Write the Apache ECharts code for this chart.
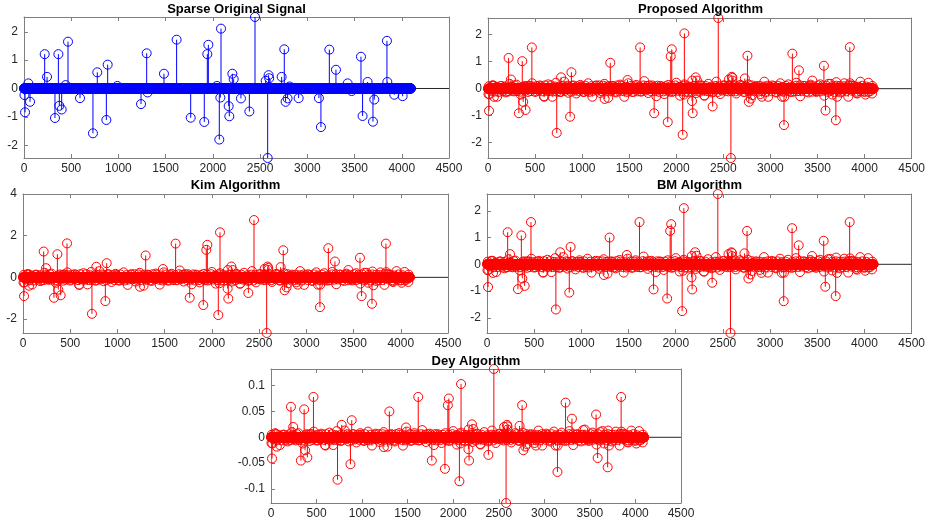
<!DOCTYPE html>
<html>
<head>
<meta charset="utf-8">
<script src="https://cdn.jsdelivr.net/npm/echarts@6.0.0/dist/echarts.min.js"></script>
<style>
html,body{margin:0;padding:0;background:#fff;}
#c{width:928px;height:524px;}
</style>
</head>
<body>
<div id="c"></div>
<script>
// ---------------- DATA ----------------
const N = 4096;
const xTicks = [0, 500, 1000, 1500, 2000, 2500, 3000, 3500, 4000, 4500];
const yTicksUnit = [-2, -1, 0, 1, 2];
const yTicksKim = [-2, 0, 2, 4];
const yTicksDey = [-0.1, -0.05, 0, 0.05, 0.1];

// sample positions of the non-zero entries of the sparse signal
const supportIdx = [5, 11, 46, 64, 219, 244, 328, 364, 374, 399, 441, 466, 593, 730, 776, 872, 886, 988,
  1239, 1299, 1309, 1482, 1616, 1765, 1909, 1941, 1952, 2043, 2068, 2079, 2086, 2167, 2174, 2206, 2220,
  2297, 2386, 2446, 2559, 2580, 2590, 2596, 2728, 2756, 2770, 2791, 2813, 2908, 3123, 3144, 3233, 3303,
  3427, 3469, 3568, 3585, 3638, 3695, 3709, 3843, 3847, 3921, 4009];

const originalVals = [-0.23, -0.84, 0.18, -0.47, 1.21, 0.41, -1.04, 1.21, -0.61, -0.74, 0.12, 1.65, -0.34, -1.58, 0.57, -1.11, 0.84, 0.09,
  -0.55, 1.24, -0.14, 0.52, 1.72, -1.03, -1.18, 1.21, 1.54, 0.09, -1.80, -0.32, 2.11, -0.62, -0.98, 0.52, 0.33,
  -0.35, -0.81, 2.52, 0.27, -2.45, 0.47, 0.36, 0.41, 1.38, -0.47, -0.35, 0.07, -0.34, -0.34, -1.36, 1.37, 0.66,
  0.18, -0.09, 1.12, -0.97, 0.23, -1.17, -0.39, 1.68, 0.23, -0.22, -0.27];

const proposedVals = [-0.20, -0.82, 0.12, -0.30, 1.14, 0.34, -0.91, 1.02, -0.49, -0.79, 0.10, 1.53, -0.28, -1.64, 0.42, -1.04, 0.61, 0.08,
  -0.38, 0.96, -0.10, 0.32, 1.53, -0.91, -1.24, 1.20, 1.46, 0.07, -1.71, -0.22, 2.05, -0.46, -0.91, 0.42, 0.30,
  -0.25, -0.66, 2.62, 0.34, -2.57, 0.44, 0.40, 0.38, 1.22, -0.49, -0.37, 0.05, -0.30, -0.30, -1.35, 1.30, 0.68,
  0.15, -0.06, 0.85, -0.81, 0.18, -1.17, -0.30, 1.54, 0.20, -0.18, -0.22];

const kimVals = [-0.25, -0.90, 0.15, -0.40, 1.24, 0.44, -0.98, 1.11, -0.59, -0.86, 0.12, 1.63, -0.35, -1.75, 0.51, -1.14, 0.68, 0.10,
  -0.45, 1.05, -0.12, 0.40, 1.62, -0.98, -1.33, 1.32, 1.56, 0.08, -1.81, -0.28, 2.16, -0.54, -1.02, 0.52, 0.35,
  -0.30, -0.75, 2.75, 0.41, -2.67, 0.52, 0.45, 0.49, 1.30, -0.62, -0.48, 0.06, -0.35, -0.35, -1.43, 1.40, 0.76,
  0.18, -0.08, 0.94, -0.90, 0.22, -1.27, -0.38, 1.62, 0.25, -0.22, -0.26];

const bmVals = [-0.22, -0.85, 0.13, -0.32, 1.20, 0.38, -0.93, 1.08, -0.53, -0.81, 0.10, 1.58, -0.30, -1.69, 0.45, -1.06, 0.65, 0.08,
  -0.40, 1.00, -0.10, 0.35, 1.58, -0.94, -1.28, 1.25, 1.50, 0.07, -1.75, -0.24, 2.10, -0.49, -0.94, 0.45, 0.32,
  -0.27, -0.69, 2.63, 0.38, -2.57, 0.45, 0.42, 0.41, 1.25, -0.53, -0.38, 0.05, -0.32, -0.32, -1.38, 1.35, 0.71,
  0.16, -0.07, 0.88, -0.84, 0.20, -1.19, -0.32, 1.58, 0.22, -0.20, -0.24];

const deyVals = [-0.011, -0.041, 0.008, -0.018, 0.059, 0.020, -0.045, 0.054, -0.025, -0.039, 0.006, 0.078, -0.015, -0.082, 0.024, -0.052, 0.033, 0.005,
  -0.019, 0.050, -0.006, 0.019, 0.078, -0.045, -0.061, 0.062, 0.075, 0.004, -0.085, -0.012, 0.103, -0.023, -0.045, 0.025, 0.016,
  -0.013, -0.034, 0.132, 0.020, -0.127, 0.024, 0.021, 0.022, 0.062, -0.025, -0.018, 0.003, -0.016, -0.016, -0.067, 0.067, 0.036,
  0.014, -0.004, 0.044, -0.040, 0.012, -0.058, -0.016, 0.078, 0.011, -0.010, -0.012];

// visible reconstruction-noise outliers (estimated from the band edges)
const noiseIdx = [15, 58, 97, 141, 183, 228, 272, 301, 348, 389,
  425, 470, 512, 551, 598, 640, 683, 722, 765, 810,
  853, 897, 938, 980, 1022, 1065, 1108, 1150, 1192, 1236,
  1277, 1320, 1361, 1405, 1448, 1490, 1533, 1574, 1618, 1660,
  1702, 1745, 1788, 1830, 1872, 1915, 1957, 2000, 2041, 2085,
  2127, 2170, 2212, 2255, 2300, 2340, 2382, 2425, 2467, 2510,
  2552, 2595, 2637, 2680, 2722, 2765, 2807, 2850, 2892, 2935,
  2977, 3020, 3062, 3105, 3147, 3190, 3232, 3275, 3317, 3360,
  3402, 3445, 3487, 3530, 3572, 3615, 3657, 3700, 3742, 3785,
  3827, 3870, 3912, 3955, 3997, 4040, 4080];

const proposedNoise = [-0.20, 0.12, -0.30, 0.10, -0.14, 0.18, -0.10, 0.15, -0.22, 0.10,
  -0.12, 0.20, -0.10, 0.12, -0.30, 0.16, -0.30, 0.22, -0.12, 0.26,
  -0.15, 0.10, -0.18, 0.14, -0.12, 0.20, -0.30, 0.12, -0.16, 0.18,
  -0.34, 0.10, -0.14, 0.15, -0.30, 0.20, -0.12, 0.14, -0.10, 0.28,
  -0.16, 0.12, -0.28, 0.10, -0.20, 0.14, -0.12, 0.22, -0.26, 0.16,
  -0.12, 0.30, -0.16, 0.12, -0.26, 0.18, -0.14, 0.26, -0.20, 0.12,
  -0.10, 0.30, -0.18, 0.14, -0.12, 0.16, -0.24, 0.10, -0.20, 0.26,
  -0.30, 0.12, -0.14, 0.20, -0.30, 0.16, -0.12, 0.22, -0.28, 0.10,
  -0.14, 0.30, -0.12, 0.16, -0.26, 0.18, -0.22, 0.24, -0.14, 0.20,
  -0.30, 0.12, -0.16, 0.26, -0.12, 0.22, -0.18];

const kimNoise = [-0.24, 0.15, -0.34, 0.12, -0.18, 0.22, -0.12, 0.18, -0.26, 0.14,
  -0.16, 0.24, -0.12, 0.15, -0.36, 0.20, -0.34, 0.26, -0.15, 0.30,
  -0.18, 0.14, -0.22, 0.17, -0.15, 0.24, -0.36, 0.15, -0.20, 0.22,
  -0.40, 0.13, -0.17, 0.18, -0.35, 0.24, -0.15, 0.17, -0.13, 0.33,
  -0.20, 0.15, -0.33, 0.13, -0.24, 0.17, -0.15, 0.26, -0.30, 0.20,
  -0.15, 0.35, -0.20, 0.15, -0.30, 0.22, -0.17, 0.30, -0.24, 0.15,
  -0.13, 0.36, -0.22, 0.17, -0.15, 0.20, -0.28, 0.13, -0.24, 0.30,
  -0.36, 0.15, -0.17, 0.24, -0.35, 0.20, -0.15, 0.26, -0.33, 0.13,
  -0.17, 0.35, -0.15, 0.20, -0.30, 0.22, -0.26, 0.28, -0.17, 0.24,
  -0.36, 0.15, -0.20, 0.30, -0.15, 0.26, -0.22];

const bmNoise = [-0.21, 0.13, -0.29, 0.11, -0.15, 0.19, -0.11, 0.14, -0.23, 0.11,
  -0.13, 0.21, -0.11, 0.13, -0.31, 0.17, -0.29, 0.23, -0.13, 0.27,
  -0.16, 0.11, -0.19, 0.15, -0.13, 0.21, -0.31, 0.13, -0.17, 0.19,
  -0.35, 0.11, -0.15, 0.16, -0.31, 0.21, -0.13, 0.15, -0.11, 0.29,
  -0.17, 0.13, -0.29, 0.11, -0.21, 0.15, -0.13, 0.23, -0.27, 0.17,
  -0.13, 0.31, -0.17, 0.13, -0.27, 0.19, -0.15, 0.27, -0.21, 0.13,
  -0.11, 0.31, -0.19, 0.15, -0.13, 0.17, -0.25, 0.11, -0.21, 0.27,
  -0.31, 0.13, -0.15, 0.21, -0.31, 0.17, -0.13, 0.23, -0.29, 0.11,
  -0.15, 0.31, -0.13, 0.17, -0.27, 0.19, -0.23, 0.25, -0.15, 0.21,
  -0.31, 0.13, -0.17, 0.27, -0.13, 0.23, -0.19];

const deyNoise = [-0.012, 0.006, -0.015, 0.005, -0.008, 0.010, -0.006, 0.008, -0.012, 0.006,
  -0.007, 0.011, -0.006, 0.007, -0.016, 0.009, -0.015, 0.012, -0.007, 0.013,
  -0.008, 0.006, -0.010, 0.008, -0.007, 0.011, -0.016, 0.007, -0.009, 0.010,
  -0.018, 0.006, -0.008, 0.008, -0.016, 0.011, -0.007, 0.008, -0.006, 0.014,
  -0.009, 0.007, -0.015, 0.006, -0.011, 0.008, -0.007, 0.012, -0.014, 0.009,
  -0.007, 0.015, -0.009, 0.007, -0.014, 0.010, -0.008, 0.013, -0.011, 0.007,
  -0.006, 0.015, -0.010, 0.008, -0.007, 0.009, -0.013, 0.006, -0.011, 0.013,
  -0.016, 0.007, -0.008, 0.011, -0.016, 0.009, -0.007, 0.012, -0.015, 0.006,
  -0.008, 0.015, -0.007, 0.009, -0.014, 0.010, -0.012, 0.013, -0.008, 0.011,
  -0.016, 0.007, -0.009, 0.013, -0.007, 0.012, -0.010];

// dense body of the reconstruction-noise band (estimated)
const coreIdx = [8, 29, 51, 72, 93, 115, 136, 157, 179, 200,
  221, 243, 264, 285, 307, 328, 349, 371, 392, 413,
  435, 456, 477, 499, 520, 541, 563, 584, 605, 627,
  648, 669, 691, 712, 733, 755, 777, 797, 819, 840,
  861, 883, 904, 925, 947, 968, 989, 1011, 1032, 1053,
  1075, 1096, 1117, 1139, 1160, 1181, 1203, 1224, 1245, 1267,
  1288, 1310, 1331, 1352, 1373, 1395, 1416, 1437, 1459, 1480,
  1501, 1523, 1544, 1565, 1587, 1608, 1629, 1651, 1672, 1693,
  1715, 1736, 1757, 1779, 1800, 1821, 1843, 1864, 1885, 1907,
  1928, 1949, 1971, 1992, 2013, 2035, 2056, 2077, 2099, 2120,
  2141, 2163, 2184, 2205, 2227, 2248, 2269, 2291, 2312, 2333,
  2355, 2376, 2397, 2419, 2440, 2461, 2483, 2504, 2525, 2547,
  2568, 2589, 2611, 2632, 2653, 2675, 2696, 2717, 2739, 2760,
  2781, 2803, 2824, 2845, 2867, 2888, 2909, 2931, 2952, 2973,
  2995, 3016, 3037, 3059, 3080, 3101, 3124, 3145, 3165, 3187,
  3208, 3229, 3251, 3272, 3293, 3315, 3336, 3357, 3379, 3400,
  3421, 3443, 3464, 3485, 3507, 3528, 3549, 3571, 3592, 3613,
  3635, 3656, 3677, 3699, 3720, 3741, 3763, 3784, 3805, 3828,
  3848, 3869, 3891, 3913, 3933, 3956, 3976, 3998, 4019, 4041,
  4061, 4083];

const proposedCore = [0.09, -0.08, 0.11, -0.10, 0.07, -0.12, 0.10, -0.09, 0.08, -0.11,
  -0.10, 0.08, -0.07, 0.12, -0.09, 0.10, -0.11, 0.07, -0.08, 0.09,
  0.11, -0.09, 0.08, -0.12, 0.10, -0.07, 0.09, -0.10, 0.12, -0.08,
  -0.09, 0.12, -0.10, 0.08, -0.11, 0.07, -0.12, 0.09, -0.08, 0.11,
  0.08, -0.11, 0.12, -0.07, 0.09, -0.10, 0.08, -0.12, 0.11, -0.09,
  -0.12, 0.09, -0.08, 0.10, -0.07, 0.12, -0.09, 0.11, -0.10, 0.08,
  0.10, -0.07, 0.09, -0.11, 0.12, -0.08, 0.10, -0.09, 0.07, -0.12,
  -0.08, 0.11, -0.12, 0.09, -0.10, 0.08, -0.11, 0.12, -0.07, 0.10,
  0.12, -0.10, 0.07, -0.09, 0.11, -0.12, 0.08, -0.10, 0.09, -0.07,
  -0.11, 0.10, -0.09, 0.12, -0.08, 0.07, -0.10, 0.11, -0.12, 0.09,
  0.07, -0.12, 0.10, -0.08, 0.09, -0.11, 0.12, -0.07, 0.10, -0.09,
  -0.09, 0.08, -0.11, 0.10, -0.12, 0.09, -0.07, 0.12, -0.08, 0.11,
  0.11, -0.09, 0.12, -0.10, 0.08, -0.07, 0.11, -0.12, 0.09, -0.08,
  -0.10, 0.12, -0.08, 0.07, -0.11, 0.10, -0.09, 0.08, -0.12, 0.11,
  0.08, -0.10, 0.09, -0.12, 0.11, -0.08, 0.07, -0.11, 0.10, -0.09,
  -0.12, 0.07, -0.10, 0.11, -0.09, 0.12, -0.08, 0.10, -0.11, 0.08,
  0.10, -0.11, 0.08, -0.09, 0.12, -0.10, 0.09, -0.07, 0.11, -0.12,
  -0.07, 0.09, -0.12, 0.11, -0.08, 0.10, -0.11, 0.09, -0.10, 0.12,
  0.12, -0.08, 0.10, -0.11, 0.07, -0.09, 0.11, -0.10, 0.08, -0.12,
  -0.09, 0.10];

const kimCore = [0.12, -0.10, 0.14, -0.13, 0.09, -0.15, 0.13, -0.11, 0.10, -0.14,
  -0.13, 0.10, -0.09, 0.15, -0.11, 0.13, -0.14, 0.09, -0.10, 0.11,
  0.14, -0.11, 0.10, -0.15, 0.13, -0.09, 0.11, -0.13, 0.15, -0.10,
  -0.11, 0.15, -0.13, 0.10, -0.14, 0.09, -0.15, 0.11, -0.10, 0.14,
  0.10, -0.14, 0.15, -0.09, 0.11, -0.13, 0.10, -0.15, 0.14, -0.11,
  -0.15, 0.11, -0.10, 0.13, -0.09, 0.15, -0.11, 0.14, -0.13, 0.10,
  0.13, -0.09, 0.11, -0.14, 0.15, -0.10, 0.13, -0.11, 0.09, -0.15,
  -0.10, 0.14, -0.15, 0.11, -0.13, 0.10, -0.14, 0.15, -0.09, 0.13,
  0.15, -0.13, 0.09, -0.11, 0.14, -0.15, 0.10, -0.13, 0.11, -0.09,
  -0.14, 0.13, -0.11, 0.15, -0.10, 0.09, -0.13, 0.14, -0.15, 0.11,
  0.09, -0.15, 0.13, -0.10, 0.11, -0.14, 0.15, -0.09, 0.13, -0.11,
  -0.11, 0.10, -0.14, 0.13, -0.15, 0.11, -0.09, 0.15, -0.10, 0.14,
  0.14, -0.11, 0.15, -0.13, 0.10, -0.09, 0.14, -0.15, 0.11, -0.10,
  -0.13, 0.15, -0.10, 0.09, -0.14, 0.13, -0.11, 0.10, -0.15, 0.14,
  0.10, -0.13, 0.11, -0.15, 0.14, -0.10, 0.09, -0.14, 0.13, -0.11,
  -0.15, 0.09, -0.13, 0.14, -0.11, 0.15, -0.10, 0.13, -0.14, 0.10,
  0.13, -0.14, 0.10, -0.11, 0.15, -0.13, 0.11, -0.09, 0.14, -0.15,
  -0.09, 0.11, -0.15, 0.14, -0.10, 0.13, -0.14, 0.11, -0.13, 0.15,
  0.15, -0.10, 0.13, -0.14, 0.09, -0.11, 0.14, -0.13, 0.10, -0.15,
  -0.11, 0.13];

const bmCore = [0.10, -0.08, 0.12, -0.10, 0.07, -0.11, 0.10, -0.09, 0.09, -0.11,
  -0.11, 0.08, -0.08, 0.12, -0.09, 0.11, -0.11, 0.08, -0.08, 0.10,
  0.11, -0.10, 0.08, -0.12, 0.10, -0.08, 0.09, -0.11, 0.12, -0.08,
  -0.10, 0.12, -0.10, 0.09, -0.11, 0.08, -0.12, 0.09, -0.09, 0.11,
  0.09, -0.11, 0.12, -0.08, 0.09, -0.10, 0.09, -0.12, 0.11, -0.10,
  -0.12, 0.10, -0.08, 0.10, -0.08, 0.12, -0.09, 0.11, -0.10, 0.09,
  0.10, -0.08, 0.09, -0.11, 0.12, -0.09, 0.10, -0.10, 0.08, -0.12,
  -0.09, 0.11, -0.12, 0.10, -0.10, 0.08, -0.11, 0.12, -0.08, 0.10,
  0.12, -0.10, 0.08, -0.09, 0.11, -0.12, 0.09, -0.10, 0.10, -0.08,
  -0.11, 0.10, -0.10, 0.12, -0.08, 0.08, -0.10, 0.11, -0.12, 0.10,
  0.08, -0.12, 0.10, -0.09, 0.09, -0.11, 0.12, -0.08, 0.10, -0.10,
  -0.10, 0.08, -0.11, 0.10, -0.12, 0.10, -0.08, 0.12, -0.09, 0.11,
  0.11, -0.10, 0.12, -0.10, 0.08, -0.08, 0.11, -0.12, 0.10, -0.08,
  -0.10, 0.12, -0.09, 0.08, -0.11, 0.10, -0.10, 0.08, -0.12, 0.11,
  0.09, -0.10, 0.09, -0.12, 0.11, -0.09, 0.08, -0.11, 0.10, -0.10,
  -0.12, 0.08, -0.10, 0.11, -0.10, 0.12, -0.08, 0.10, -0.11, 0.09,
  0.10, -0.11, 0.09, -0.09, 0.12, -0.10, 0.10, -0.08, 0.11, -0.12,
  -0.08, 0.09, -0.12, 0.11, -0.09, 0.10, -0.11, 0.10, -0.10, 0.12,
  0.12, -0.09, 0.10, -0.11, 0.08, -0.09, 0.11, -0.10, 0.09, -0.12,
  -0.10, 0.10];

const deyCore = [0.005, -0.004, 0.006, -0.005, 0.004, -0.006, 0.005, -0.005, 0.004, -0.006,
  -0.005, 0.004, -0.004, 0.006, -0.005, 0.005, -0.006, 0.004, -0.004, 0.005,
  0.006, -0.005, 0.004, -0.006, 0.005, -0.004, 0.005, -0.005, 0.006, -0.004,
  -0.005, 0.006, -0.005, 0.004, -0.006, 0.004, -0.006, 0.005, -0.004, 0.006,
  0.004, -0.006, 0.006, -0.004, 0.005, -0.005, 0.004, -0.006, 0.006, -0.005,
  -0.006, 0.005, -0.004, 0.005, -0.004, 0.006, -0.005, 0.006, -0.005, 0.004,
  0.005, -0.004, 0.005, -0.006, 0.006, -0.004, 0.005, -0.005, 0.004, -0.006,
  -0.004, 0.006, -0.006, 0.005, -0.005, 0.004, -0.006, 0.006, -0.004, 0.005,
  0.006, -0.005, 0.004, -0.005, 0.006, -0.006, 0.004, -0.005, 0.005, -0.004,
  -0.006, 0.005, -0.005, 0.006, -0.004, 0.004, -0.005, 0.006, -0.006, 0.005,
  0.004, -0.006, 0.005, -0.004, 0.005, -0.006, 0.006, -0.004, 0.005, -0.005,
  -0.005, 0.004, -0.006, 0.005, -0.006, 0.005, -0.004, 0.006, -0.004, 0.006,
  0.006, -0.005, 0.006, -0.005, 0.004, -0.004, 0.006, -0.006, 0.005, -0.004,
  -0.005, 0.006, -0.004, 0.004, -0.006, 0.005, -0.005, 0.004, -0.006, 0.006,
  0.004, -0.005, 0.005, -0.006, 0.006, -0.004, 0.004, -0.006, 0.005, -0.005,
  -0.006, 0.004, -0.005, 0.006, -0.005, 0.006, -0.004, 0.005, -0.006, 0.004,
  0.005, -0.006, 0.004, -0.005, 0.006, -0.005, 0.005, -0.004, 0.006, -0.006,
  -0.004, 0.005, -0.006, 0.006, -0.004, 0.005, -0.006, 0.005, -0.005, 0.006,
  0.006, -0.004, 0.005, -0.006, 0.004, -0.005, 0.006, -0.005, 0.004, -0.006,
  -0.005, 0.005];

// ---------------- BUILD ----------------
function place(arr, idx, vals) {
  if (!vals) return;
  idx.forEach((k, i) => { if (vals[i] !== undefined) arr[k - 1] = vals[i]; });
}
function buildSignal(vals, core, noise) {
  const arr = new Array(N).fill(0);
  place(arr, coreIdx, core);
  place(arr, noiseIdx, noise);
  place(arr, supportIdx, vals);
  return arr.map((v, i) => [i + 1, v]);
}

const FONT = '"Liberation Sans", Arial, Helvetica, sans-serif';
const AX = '#7f7f7f';
const LB = '#262626';

const panels = [
  { title: 'Sparse Original Signal', vals: originalVals, core: null, noise: null, color: '#0000ff',
    grid: { left: 24, top: 17, width: 425, height: 141 }, yMin: 'dataMin', yMax: 'dataMax', ticks: yTicksUnit, titleTop: 3 },
  { title: 'Proposed Algorithm', vals: proposedVals, core: proposedCore, noise: proposedNoise, color: '#ff0000',
    grid: { left: 488, top: 18, width: 425, height: 140 }, yMin: 'dataMin', yMax: 'dataMax', ticks: yTicksUnit, titleTop: 3 },
  { title: 'Kim Algorithm', vals: kimVals, core: kimCore, noise: kimNoise, color: '#ff0000',
    grid: { left: 23, top: 194, width: 425, height: 139 }, yMin: 'dataMin', yMax: 4, ticks: yTicksKim, titleTop: 179 },
  { title: 'BM Algorithm', vals: bmVals, core: bmCore, noise: bmNoise, color: '#ff0000',
    grid: { left: 487, top: 194, width: 425, height: 139 }, yMin: 'dataMin', yMax: 'dataMax', ticks: yTicksUnit, titleTop: 179 },
  { title: 'Dey Algorithm', vals: deyVals, core: deyCore, noise: deyNoise, color: '#ff0000',
    grid: { left: 271, top: 369, width: 410, height: 134 }, yMin: 'dataMin', yMax: 'dataMax', ticks: yTicksDey, titleTop: 355 }
];

const option = {
  animation: false,
  backgroundColor: '#fff',
  title: [], grid: [], xAxis: [], yAxis: [], series: []
};

panels.forEach((p, gi) => {
  option.grid.push(Object.assign({ containLabel: false }, p.grid));
  option.title.push({
    text: p.title, left: p.grid.left + p.grid.width / 2, top: p.titleTop, textAlign: 'center', padding: 0,
    textStyle: { fontFamily: FONT, fontSize: 13, fontWeight: 'bold', color: '#000' }
  });
  const xBase = {
    gridIndex: gi, type: 'value', min: xTicks[0], max: xTicks[xTicks.length - 1], interval: 500,
    axisLine: { show: true, onZero: false, lineStyle: { color: AX, width: 1 } },
    axisTick: { show: true, inside: true, length: 4, lineStyle: { color: AX } },
    splitLine: { show: false }
  };
  option.xAxis.push(Object.assign({}, xBase, {
    position: 'bottom',
    axisLabel: { show: true, color: LB, fontFamily: FONT, fontSize: 12, margin: 5, formatter: v => String(v) }
  }));
  option.xAxis.push(Object.assign({}, xBase, { position: 'top', axisLabel: { show: false } }));
  const yBase = {
    gridIndex: gi, type: 'value', min: p.yMin, max: p.yMax, scale: true,
    axisLine: { show: true, onZero: false, lineStyle: { color: AX, width: 1 } },
    axisTick: { show: true, inside: true, length: 4, customValues: p.ticks, lineStyle: { color: AX } },
    splitLine: { show: false }
  };
  option.yAxis.push(Object.assign({}, yBase, {
    position: 'left',
    axisLabel: { show: true, customValues: p.ticks, color: LB, fontFamily: FONT, fontSize: 12, margin: 6, formatter: v => String(v) }
  }));
  option.yAxis.push(Object.assign({}, yBase, { position: 'right', axisLabel: { show: false } }));

  const data = buildSignal(p.vals, p.core, p.noise);
  const stems = data.filter(d => d[1] !== 0);
  const color = p.color;
  // stem baseline (y = 0 across the x-axis range), drawn beneath everything
  option.series.push({
    type: 'line', xAxisIndex: 2 * gi, yAxisIndex: 2 * gi, z: 1, silent: true,
    symbol: 'none', lineStyle: { color: '#262626', width: 1 },
    data: [[xTicks[0], 0], [xTicks[xTicks.length - 1], 0]]
  });
  option.series.push({
    type: 'custom', xAxisIndex: 2 * gi, yAxisIndex: 2 * gi, z: 2, silent: true,
    coordinateSystem: 'cartesian2d',
    encode: { x: 0, y: 1 },
    data: stems,
    renderItem: function (params, api) {
      const x = api.value(0), y = api.value(1);
      const a = api.coord([x, 0]);
      const b = api.coord([x, y]);
      return { type: 'line', shape: { x1: a[0], y1: a[1], x2: b[0], y2: b[1] },
        style: { stroke: color, lineWidth: 1 } };
    }
  });
  option.series.push({
    type: 'scatter', xAxisIndex: 2 * gi, yAxisIndex: 2 * gi, z: 3, silent: true,
    progressive: 0, large: false,
    symbol: 'circle', symbolSize: 9,
    itemStyle: { color: 'rgba(0,0,0,0)', borderColor: color, borderWidth: 1, opacity: 1 },
    data: data
  });
});

const chart = echarts.init(document.getElementById('c'), null, { renderer: 'canvas' });
chart.setOption(option);
</script>
</body>
</html>
